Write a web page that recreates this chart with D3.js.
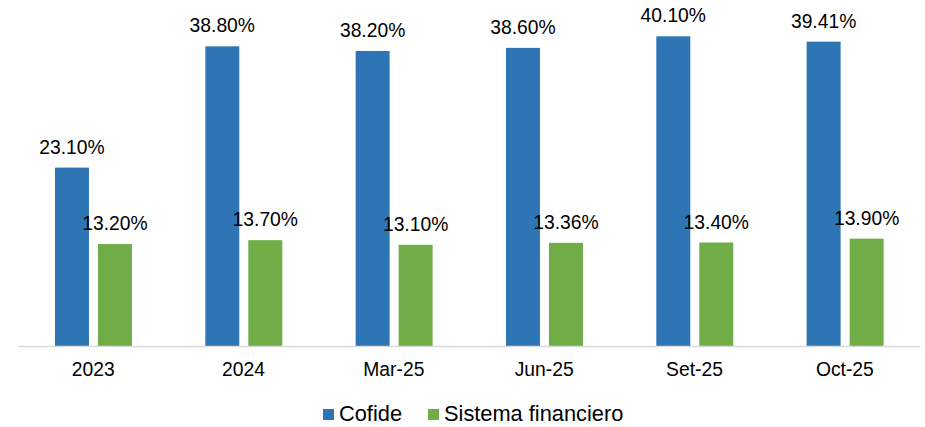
<!DOCTYPE html>
<html lang="es">
<head>
    <meta charset="UTF-8">
    <title>Cofide vs Sistema financiero</title>
    <style>
        body { margin: 0; background: #fff; }
        text { font-family: "Liberation Sans", Arial, sans-serif; fill: #000; }
    </style>
</head>
<body>
    <svg width="925" height="427"></svg>

    <script src="https://d3js.org/d3.v7.min.js"></script>
    <script>
        var categories = ['2023', '2024', 'Mar-25', 'Jun-25', 'Set-25', 'Oct-25'];
        var cofide = [23.10, 38.80, 38.20, 38.60, 40.10, 39.41];
        var sistema = [13.20, 13.70, 13.10, 13.36, 13.40, 13.90];
        var seriesNames = ['Cofide', 'Sistema financiero'];
        var colors = ['#2E75B6', '#70AD47'];

        var svg = d3.select('svg');
        var baseY = 346;

        var x0 = d3.scaleBand().domain(categories).range([18, 920]);
        var bw = x0.bandwidth();
        var x1 = d3.scaleBand().domain(seriesNames)
            .range([bw * 0.246, bw * 0.758])
            .paddingInner(0.21);
        var y = d3.scaleLinear().domain([0, 44.8]).range([baseY, 0]);

        var series = [cofide, sistema];

        // bars + labels
        series.forEach(function (vals, si) {
            var g = svg.append('g');
            g.selectAll('rect').data(vals).enter().append('rect')
                .attr('x', function (d, i) { return x0(categories[i]) + x1(seriesNames[si]); })
                .attr('y', function (d) { return y(d); })
                .attr('width', x1.bandwidth())
                .attr('height', function (d) { return baseY - y(d); })
                .attr('fill', colors[si]);

            g.selectAll('text').data(vals).enter().append('text')
                .attr('x', function (d, i) { return x0(categories[i]) + x1(seriesNames[si]) + x1.bandwidth() / 2; })
                .attr('y', function (d) { return y(d) - 14; })
                .attr('text-anchor', 'middle')
                .style('font-size', '19.3px')
                .text(function (d) { return d.toFixed(2) + '%'; });
        });

        // axis
        var xAxis = svg.append('g')
            .attr('transform', 'translate(0,' + baseY + ')')
            .call(d3.axisBottom(x0).tickSize(0).tickPadding(16));
        xAxis.select('.domain').attr('stroke', '#D9D9D9').attr('stroke-width', 1.5);
        xAxis.selectAll('text')
            .style('font-size', '19.3px')
            .style('font-family', '"Liberation Sans", Arial, sans-serif')
            .attr('fill', '#000');

        // legend
        var legendPos = [323, 428];
        var legend = svg.append('g');
        seriesNames.forEach(function (name, i) {
            legend.append('rect')
                .attr('x', legendPos[i]).attr('y', 409)
                .attr('width', 11).attr('height', 11)
                .attr('fill', colors[i]);
            legend.append('text')
                .attr('x', legendPos[i] + 16).attr('y', 421)
                .style('font-size', '21.8px')
                .text(name);
        });
    </script>
</body>
</html>
